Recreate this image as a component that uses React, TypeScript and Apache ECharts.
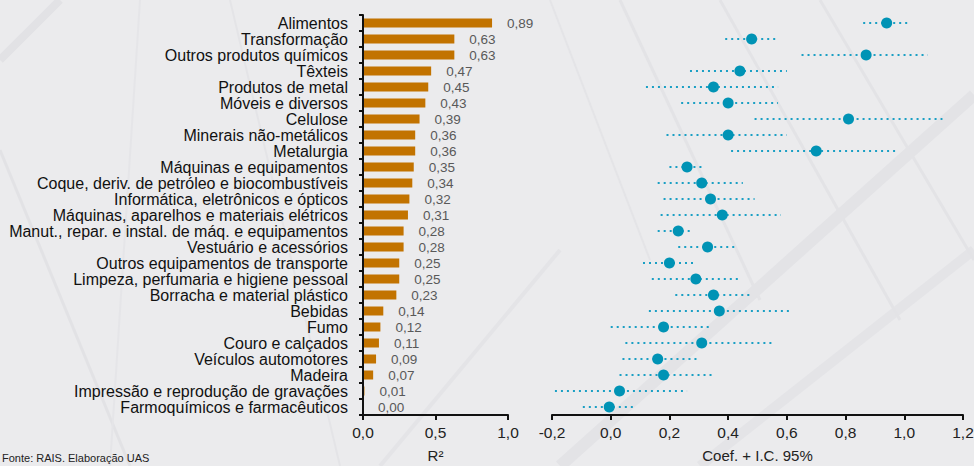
import React, { useEffect, useRef } from "react";
import * as echarts from "echarts";

const categories = [
  "Alimentos",
  "Transformação",
  "Outros produtos químicos",
  "Têxteis",
  "Produtos de metal",
  "Móveis e diversos",
  "Celulose",
  "Minerais não-metálicos",
  "Metalurgia",
  "Máquinas e equipamentos",
  "Coque, deriv. de petróleo e biocombustíveis",
  "Informática, eletrônicos e ópticos",
  "Máquinas, aparelhos e materiais elétricos",
  "Manut., repar. e instal. de máq. e equipamentos",
  "Vestuário e acessórios",
  "Outros equipamentos de transporte",
  "Limpeza, perfumaria e higiene pessoal",
  "Borracha e material plástico",
  "Bebidas",
  "Fumo",
  "Couro e calçados",
  "Veículos automotores",
  "Madeira",
  "Impressão e reprodução de gravações",
  "Farmoquímicos e farmacêuticos",
];

const r2Values = [0.89, 0.63, 0.63, 0.47, 0.45, 0.43, 0.39, 0.36, 0.36, 0.35, 0.34, 0.32, 0.31, 0.28, 0.28, 0.25, 0.25, 0.23, 0.14, 0.12, 0.11, 0.09, 0.07, 0.01, 0.0];

const coefValues = [0.94, 0.48, 0.87, 0.44, 0.35, 0.40, 0.81, 0.40, 0.70, 0.26, 0.31, 0.34, 0.38, 0.23, 0.33, 0.20, 0.29, 0.35, 0.37, 0.18, 0.31, 0.16, 0.18, 0.03, -0.005];
const ciLower = [0.86, 0.39, 0.65, 0.27, 0.12, 0.24, 0.49, 0.19, 0.41, 0.20, 0.16, 0.18, 0.17, 0.16, 0.23, 0.11, 0.14, 0.22, 0.13, 0.0, 0.05, 0.04, 0.03, -0.19, -0.095];
const ciUpper = [1.02, 0.57, 1.08, 0.60, 0.57, 0.57, 1.13, 0.60, 0.97, 0.32, 0.45, 0.49, 0.58, 0.28, 0.43, 0.29, 0.44, 0.48, 0.62, 0.34, 0.56, 0.30, 0.35, 0.26, 0.08];

const leftTicks = [0, 0.5, 1.0];

const FONT = "Liberation Sans";
const fmt1 = (v: number) => v.toFixed(1).replace(".", ",").replace("-0,0", "0,0");
const fmt2 = (v: number) => v.toFixed(2).replace(".", ",");

export default function App() {
  const ref = useRef<HTMLDivElement>(null);

  useEffect(() => {
    document.body.style.margin = "0";
    document.body.style.overflow = "hidden";
    if (!ref.current) return;
    const chart = echarts.init(ref.current, undefined, { renderer: "svg" });

    const bgLines: any[] = [
      { p: [[560, 466], [974, 95]], w: 12, c: "#e3e3e6" },
      { p: [[700, 466], [974, 250]], w: 10, c: "#e4e4e7" },
      { p: [[0, 150], [130, 466]], w: 3, c: "#e2e2e5" },
      { p: [[230, 0], [340, 466]], w: 2, c: "#e4e4e7" },
      { p: [[0, 60], [60, 0]], w: 8, c: "#e2e2e5" },
      { p: [[140, 0], [110, 466]], w: 2, c: "#e5e5e8" },
      { p: [[620, 0], [760, 300]], w: 3, c: "#e3e3e6" },
      { p: [[720, 0], [900, 320]], w: 3, c: "#e3e3e6" },
      { p: [[820, 0], [974, 260]], w: 3, c: "#e3e3e6" },
      { p: [[550, 0], [650, 260]], w: 2, c: "#e4e4e7" },
      { p: [[380, 466], [560, 250]], w: 4, c: "#e4e4e7" },
    ];

    const option: any = {
      animation: false,
      backgroundColor: "#ebebed",
      textStyle: { fontFamily: FONT },
      graphic: [
        ...bgLines.map((l) => ({
          type: "polyline",
          silent: true,
          z: -10,
          shape: { points: l.p },
          style: { stroke: l.c, lineWidth: l.w, fill: null },
        })),
        {
          type: "text",
          left: 2,
          top: 452,
          style: {
            text: "Fonte: RAIS. Elaboração UAS",
            fontSize: 11,
            fill: "#222",
            fontFamily: FONT,
          },
        },
      ],
      grid: [
        { left: 363, width: 145, top: 15, height: 400, containLabel: false, outerBoundsMode: "none" },
        { left: 552, width: 411, top: 15, height: 400, containLabel: false, outerBoundsMode: "none" },
      ],
      xAxis: [
        {
          gridIndex: 0,
          type: "value",
          min: 0,
          max: 1,
          interval: 0.5,
          name: "R²",
          nameLocation: "middle",
          nameGap: 33,
          nameTextStyle: { fontSize: 15, color: "#222", fontFamily: FONT },
          axisLine: { show: true, lineStyle: { color: "#111", width: 2 } },
          axisTick: { show: true, length: 5, lineStyle: { color: "#111", width: 2 } },
          axisLabel: { fontSize: 15.5, color: "#222", margin: 9, fontFamily: FONT, formatter: (v: number) => (leftTicks.includes(v) ? fmt1(v) : "") },
          splitLine: { show: false },
          z: 5,
        },
        {
          gridIndex: 1,
          type: "value",
          min: -0.2,
          max: 1.2,
          interval: 0.2,
          name: "Coef. + I.C. 95%",
          nameLocation: "middle",
          nameGap: 33,
          nameTextStyle: { fontSize: 15, color: "#222", fontFamily: FONT },
          axisLine: { show: true, lineStyle: { color: "#111", width: 2 } },
          axisTick: { show: true, length: 5, lineStyle: { color: "#111", width: 2 } },
          axisLabel: { fontSize: 15.5, color: "#222", margin: 9, fontFamily: FONT, formatter: (v: number) => fmt1(v) },
          splitLine: { show: false },
        },
      ],
      yAxis: [
        {
          gridIndex: 0,
          type: "category",
          data: categories,
          inverse: true,
          z: 5,
          axisLine: { show: true, onZero: false, lineStyle: { color: "#111", width: 2 } },
          axisTick: { show: true, length: 4, lineStyle: { color: "#111", width: 2 } },
          axisLabel: { fontSize: 16, color: "#111", margin: 15, interval: 0, fontFamily: FONT },
        },
        {
          gridIndex: 1,
          type: "category",
          data: categories,
          inverse: true,
          axisLine: { show: false },
          axisTick: { show: false },
          axisLabel: { show: false },
        },
      ],
      series: [
        {
          type: "bar",
          xAxisIndex: 0,
          yAxisIndex: 0,
          data: r2Values,
          barWidth: 9,
          itemStyle: { color: "#c27300" },
          label: {
            show: true,
            position: "right",
            distance: 15,
            fontSize: 13.5,
            color: "#595959",
            fontFamily: FONT,
            formatter: (p: any) => fmt2(p.value),
          },
        },
        {
          type: "custom",
          xAxisIndex: 1,
          yAxisIndex: 1,
          data: categories.map((c, i) => [ciLower[i], ciUpper[i], i]),
          encode: { x: [0, 1], y: 2 },
          renderItem: (params: any, api: any) => {
            const lo = api.coord([api.value(0), api.value(2)]);
            const hi = api.coord([api.value(1), api.value(2)]);
            return {
              type: "line",
              shape: { x1: lo[0], y1: lo[1], x2: hi[0], y2: hi[1] },
              style: { stroke: "#1a9fc4", lineWidth: 2, lineDash: [2, 4] },
            };
          },
          z: 2,
        },
        {
          type: "scatter",
          xAxisIndex: 1,
          yAxisIndex: 1,
          data: coefValues.map((v, i) => [v, i]),
          symbolSize: 11,
          itemStyle: { color: "#0093b5", opacity: 1 },
          z: 3,
        },
      ],
    };

    chart.setOption(option);
    return () => chart.dispose();
  }, []);

  return <div ref={ref} style={{ position: "absolute", left: 0, top: 0, width: 974, height: 466 }} />;
}
